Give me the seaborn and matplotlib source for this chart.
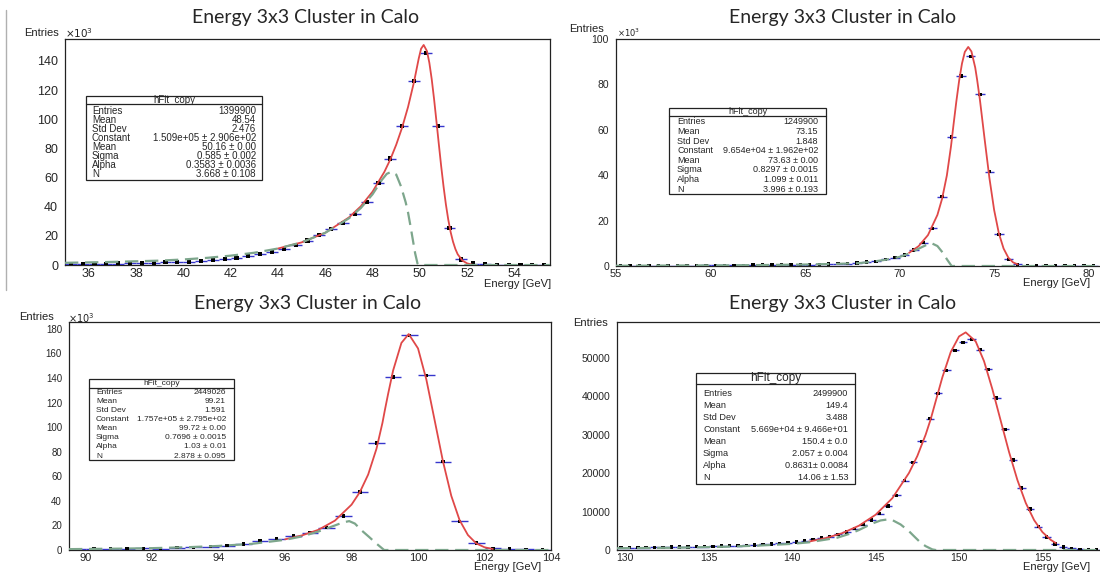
import numpy as np
import matplotlib
matplotlib.use("Agg")
import matplotlib.pyplot as plt
from matplotlib.patches import Rectangle
from matplotlib.lines import Line2D
from matplotlib.ticker import MultipleLocator, FormatStrFormatter
import seaborn as sns

BIN_W = 0.5
STAT_LABELS = ["Entries", "Mean", "Std Dev", "Constant", "Mean", "Sigma", "Alpha", "N"]

# 50 GeV (counts in 10^3)
e50_first = 35.25
e50_counts = [0.6, 0.7, 0.8, 0.9, 1.0, 1.2, 1.4, 1.6, 1.8, 2.1, 2.4, 2.9, 3.4, 4.2, 5.0,
              6.3, 7.6, 9.2, 11.0, 13.5, 16.8, 20.6, 24.8, 29.0, 35.0, 43.2, 56.0, 73.0,
              95.5, 126.0, 145.5, 95.3, 25.3, 3.8, 1.0, 0.4, 0.2, 0.1, 0.1, 0.05, 0.05]
red50_x = [44.0, 45.0, 46.0, 47.0, 47.5, 48.0, 48.5, 48.75, 49.0, 49.25, 49.5, 49.75, 49.95,
           50.05, 50.16, 50.3, 50.4, 50.5, 50.6, 50.7, 50.8, 50.9, 51.0, 51.1, 51.2, 51.3,
           51.4, 51.5, 51.6, 51.8, 52.0, 52.2]
red50_y = [11.3, 15.5, 22.1, 32.6, 40.2, 50.3, 63.9, 72.4, 82.5, 94.3, 108.4, 125.4, 141.5,
           148.3, 150.9, 146.7, 138.7, 127.5, 113.8, 98.6, 83.0, 67.8, 53.9, 41.5, 31.1, 22.6,
           16.0, 11.0, 7.3, 3.0, 1.1, 0.3]
green50_x = [35.0, 37.0, 39.0, 40.0, 41.0, 42.0, 43.0, 44.0, 45.0, 46.0, 47.0, 47.5, 48.0,
             48.4, 48.6, 48.8, 49.0, 49.2, 49.4, 49.5, 49.6, 49.7, 49.8, 49.9, 49.95, 55.5]
green50_y = [1.5, 2.1, 3.0, 3.8, 4.9, 6.4, 8.4, 11.3, 15.5, 22.1, 32.0, 39.0, 48.5, 58.5,
             62.5, 64.0, 62.0, 54.0, 43.0, 36.0, 27.0, 17.5, 8.0, 1.0, 0.0, 0.0]
stats50 = ["1399900", "48.54", "2.476", "1.509e+05 \u00b1 2.906e+02", "50.16 \u00b1 0.00",
           "0.585 \u00b1 0.002", "0.3583 \u00b1 0.0036", "3.668 \u00b1 0.108"]

# 75 GeV (counts in 10^3)
e75_first = 55.25
e75_counts = [0.10, 0.10, 0.12, 0.15, 0.15, 0.18, 0.20, 0.20, 0.22, 0.25, 0.27, 0.30, 0.32,
              0.35, 0.38, 0.40, 0.45, 0.50, 0.55, 0.60, 0.65, 0.75, 0.85, 1.0, 1.1, 1.3, 1.8,
              2.1, 2.9, 3.7, 4.8, 7.0, 10.3, 16.6, 30.5, 56.8, 83.7, 92.4, 75.6, 41.6, 14.0,
              2.9, 0.7, 0.2, 0.1, 0.05, 0.05, 0.03, 0.02, 0.02, 0.01]
red75_x = [70.5, 71.0, 71.5, 72.0, 72.25, 72.5, 72.72, 72.85, 73.0, 73.15, 73.3, 73.45, 73.63,
           73.8, 74.0, 74.1, 74.25, 74.5, 74.75, 75.0, 75.25, 75.5, 75.75, 76.0, 76.25]
red75_y = [5.8, 8.7, 13.6, 22.5, 29.7, 39.9, 52.8, 62.1, 72.4, 81.7, 89.2, 94.3, 96.5,
           94.5, 87.4, 82.1, 73.1, 55.7, 38.8, 24.7, 14.4, 7.7, 3.7, 1.6, 0.7]
green75_x = [55.0, 58.0, 61.0, 63.0, 65.0, 66.5, 67.75, 68.5, 69.3, 70.0, 70.5, 71.0, 71.4,
             71.7, 72.0, 72.3, 72.5, 72.75, 80.6]
green75_y = [0.1, 0.2, 0.3, 0.45, 0.65, 0.9, 1.2, 1.8, 2.8, 4.0, 5.5, 7.6, 9.2, 10.0, 8.8,
             5.7, 3.0, 0.0, 0.0]
stats75 = ["1249900", "73.15", "1.848", "9.654e+04 \u00b1 1.962e+02", "73.63 \u00b1 0.00",
           "0.8297 \u00b1 0.0015", "1.099 \u00b1 0.011", "3.996 \u00b1 0.193"]

# 100 GeV (counts in 10^3)
e100_first = 89.75
e100_counts = [0.6, 0.8, 0.9, 1.1, 1.4, 1.1, 1.9, 2.2, 2.7, 3.5, 4.9, 7.3, 8.9, 11.3, 14.0,
               18.1, 27.8, 47.2, 87.2, 140.6, 174.6, 142.2, 71.8, 23.2, 5.7, 1.4, 0.9, 0.6, 0.3]
red100_x = [96.0, 96.5, 97.0, 97.5, 98.0, 98.25, 98.5, 98.75, 98.93, 99.0, 99.1, 99.25, 99.5,
            99.72, 100.0, 100.25, 100.5, 100.75, 101.0, 101.25, 101.5, 101.75, 102.0, 102.25]
red100_y = [8.7, 11.8, 16.4, 23.9, 36.9, 47.1, 61.4, 82.4, 103.5, 113.5, 127.0, 146.0, 168.5,
            175.7, 164.0, 138.7, 105.5, 72.1, 44.1, 24.3, 12.2, 5.4, 2.2, 0.8]
green100_x = [89.5, 91.0, 92.0, 93.0, 94.0, 95.0, 96.0, 96.5, 97.0, 97.5, 97.75, 97.93, 98.1,
              98.3, 98.52, 98.74, 98.9, 98.98, 104.0]
green100_y = [0.7, 1.1, 1.5, 2.2, 3.3, 5.0, 8.3, 11.0, 15.0, 20.0, 22.5, 23.5, 21.5, 16.0,
              10.8, 5.4, 1.8, 0.0, 0.0]
stats100 = ["2449026", "99.21", "1.591", "1.757e+05 \u00b1 2.795e+02", "99.72 \u00b1 0.00",
            "0.7696 \u00b1 0.0015", "1.03 \u00b1 0.01", "2.878 \u00b1 0.095"]

# 150 GeV (raw counts)
e150_first = 129.75
e150_counts = [600, 600, 650, 650, 700, 700, 750, 750, 800, 850, 900, 950, 1000, 1100, 1150,
               1250, 1350, 1450, 1550, 1700, 1900, 2100, 2300, 2800, 3100, 3500, 4100, 4700,
               5600, 6600, 7800, 9500, 11500, 14200, 18100, 22800, 28300, 34200, 40800, 46800,
               52000, 54100, 54900, 52200, 47100, 39600, 31400, 23400, 16200, 10700, 6100,
               3400, 1600, 800, 400, 200, 100, 50]
red150_x = [141.0, 142.0, 143.0, 144.0, 145.0, 146.0, 147.0, 147.5, 148.0, 148.3, 148.62,
            149.0, 149.5, 150.0, 150.4, 151.0, 151.5, 152.0, 152.5, 153.0, 153.5, 154.0,
            154.5, 155.0, 155.5, 155.8]
red150_y = [2180, 3090, 4390, 6330, 9180, 13480, 20070, 24480, 30050, 34050, 39060, 44970,
            51540, 55640, 56700, 54330, 49180, 41880, 33660, 25500, 18220, 12260, 7790, 4660,
            2630, 1810]
green150_x = [129.5, 133.0, 136.0, 138.0, 140.0, 141.0, 142.0, 142.7, 143.5, 144.0, 144.8,
              145.3, 145.7, 146.0, 146.5, 147.0, 147.3, 147.7, 148.0, 148.4, 148.6, 158.45]
green150_y = [450, 600, 850, 1150, 1600, 2000, 2700, 3200, 4300, 5200, 6900, 7700, 7950,
              7800, 6650, 4900, 3600, 1900, 1000, 150, 0, 0]
stats150 = ["2499900", "149.4", "3.488", "5.669e+04 \u00b1 9.466e+01", "150.4 \u00b1 0.0",
            "2.057 \u00b1 0.004", "0.8631\u00b1 0.0084", "14.06 \u00b1 1.53"]

TITLE = "Energy 3x3 Cluster in Calo"

# ---- styling ----
W, H = 1100, 577
BLUE = "#3636cc"
RED = "#e04848"
GREEN = "#7da68c"

sns.set_style("white")
plt.rcParams["font.family"] = ["Liberation Sans", "DejaVu Sans"]

fig = plt.figure(figsize=(11, 5.77), dpi=100)


def fx(x):
    return x / W


def fy(y):
    return 1 - y / H


def draw_hist(ax, first, counts, red_x, red_y, green_x, green_y, msize):
    centers = first + BIN_W * np.arange(len(counts))
    counts = np.asarray(counts)
    ax.hlines(counts, centers - BIN_W / 2, centers + BIN_W / 2, color=BLUE, lw=1.0, zorder=3)
    sns.scatterplot(x=centers, y=counts, ax=ax, marker="s", s=msize, color="black",
                    edgecolor="none", zorder=4, legend=False)
    sns.lineplot(x=red_x, y=red_y, ax=ax, color=RED, lw=1.3, zorder=5)
    sns.lineplot(x=green_x, y=green_y, ax=ax, color=GREEN, lw=1.6,
                 linestyle=(0, (6, 3)), zorder=6)


def style_axes(ax, xlim, ylim, xmaj, xmin, ymaj, ymin, fs_x, fs_y, right_spine=True):
    ax.set_xlim(*xlim)
    ax.set_ylim(*ylim)
    ax.xaxis.set_major_locator(MultipleLocator(xmaj))
    ax.xaxis.set_minor_locator(MultipleLocator(xmin))
    ax.yaxis.set_major_locator(MultipleLocator(ymaj))
    ax.yaxis.set_minor_locator(MultipleLocator(ymin))
    ax.yaxis.set_major_formatter(FormatStrFormatter("%d"))
    ax.xaxis.set_major_formatter(FormatStrFormatter("%d"))
    ax.tick_params(axis="y", which="major", direction="in", length=10, width=0.8,
                   color="#444444", labelsize=fs_y, pad=5)
    ax.tick_params(axis="y", which="minor", direction="in", length=5, width=0.8, color="#666666")
    ax.tick_params(axis="x", which="major", direction="in", length=6, width=0.8,
                   color="#444444", labelsize=fs_x, pad=2)
    ax.tick_params(axis="x", which="minor", direction="in", length=3, width=0.8, color="#666666")
    ax.set_xlabel("")
    ax.set_ylabel("")
    for name, sp in ax.spines.items():
        sp.set_color("#222222")
        sp.set_linewidth(0.9)
    ax.spines["right"].set_visible(right_spine)


def stats_box(l, t, r, b, sep, row0, row1, lab_x, val_r, fs, values, title_fs=None):
    fig.add_artist(Rectangle((fx(l), fy(b)), (r - l) / W, (b - t) / H, transform=fig.transFigure,
                             facecolor="white", edgecolor="#222222", lw=0.9, zorder=5))
    fig.add_artist(Line2D([fx(l), fx(r)], [fy(sep), fy(sep)], transform=fig.transFigure,
                          color="#222222", lw=0.9, zorder=6))
    fig.text(fx((l + r) / 2), fy((t + sep) / 2), "hFit_copy", ha="center", va="center",
             fontsize=title_fs or fs, zorder=7)
    for i, (lab, val) in enumerate(zip(STAT_LABELS, values)):
        y = row0 + i * (row1 - row0) / 7
        fig.text(fx(lab_x), fy(y), lab, ha="left", va="center", fontsize=fs, zorder=7)
        fig.text(fx(val_r), fy(y), val, ha="right", va="center", fontsize=fs, zorder=7)


def add_axes_px(l, t, r, b):
    return fig.add_axes([fx(l), fy(b), (r - l) / W, (b - t) / H])


# ---- panel 1: 50 GeV ----
ax1 = add_axes_px(65, 39, 550, 265)
draw_hist(ax1, e50_first, e50_counts, red50_x, red50_y, green50_x, green50_y, 9)
style_axes(ax1, (35, 55.5), (0, 155), 2, 0.5, 20, 5, 9, 9)
stats_box(86, 96, 262, 180, 104, 111, 174, 92, 256, 7, stats50)

# ---- panel 2: 75 GeV ----
ax2 = add_axes_px(616, 39, 1100, 266)
draw_hist(ax2, e75_first, e75_counts, red75_x, red75_y, green75_x, green75_y, 6)
style_axes(ax2, (55, 80.6), (0, 100), 5, 1, 20, 5, 8, 7.5, right_spine=False)
stats_box(669, 108, 826, 194, 116, 122, 189, 677, 818, 6.5, stats75)

# ---- panel 3: 100 GeV ----
ax3 = add_axes_px(69, 322, 551, 550)
draw_hist(ax3, e100_first, e100_counts, red100_x, red100_y, green100_x, green100_y, 6)
style_axes(ax3, (89.5, 104), (0, 185.5), 2, 0.5, 20, 4, 8, 7)
stats_box(89, 379, 234, 460, 388, 392, 456, 96, 226, 6, stats100)

# ---- panel 4: 150 GeV ----
ax4 = add_axes_px(617, 322, 1100, 550)
draw_hist(ax4, e150_first, e150_counts, red150_x, red150_y, green150_x, green150_y, 6)
style_axes(ax4, (129.5, 158.45), (0, 59400), 5, 1, 10000, 2000, 7.5, 7.5, right_spine=False)
stats_box(696, 373, 855, 484, 384, 393, 478, 703, 848, 6.6, stats150, title_fs=8.5)

# ---- titles and axis labels, placed like on the ROOT canvases ----
title_font = ["Lato", "DejaVu Sans"]
for cx, cy in [(306, 17), (843, 17), (308, 303), (843, 303)]:
    fig.text(fx(cx), fy(cy), TITLE, ha="center", va="center", fontsize=14, family=title_font)

for lx, ly in [(24, 33), (569, 29), (19, 317), (573, 323)]:
    fig.text(fx(lx), fy(ly), "Entries", ha="left", va="center", fontsize=8, color="#222222")

for lx, ly, fs in [(65, 33, 7.5), (617, 33, 6), (68, 318, 7)]:
    fig.text(fx(lx), fy(ly), r"$\times10^{3}$", ha="left", va="center", fontsize=fs,
             color="#222222")

for rx, ry in [(551, 284), (1090, 283), (541, 567), (1090, 567)]:
    fig.text(fx(rx), fy(ry), "Energy [GeV]", ha="right", va="center", fontsize=8,
             color="#222222")

# thin slide border at the far left
fig.add_artist(Line2D([fx(6), fx(6)], [fy(10), fy(290)], transform=fig.transFigure,
                      color="#b0b0b0", lw=1.0))

fig.savefig("out.png", dpi=100)
